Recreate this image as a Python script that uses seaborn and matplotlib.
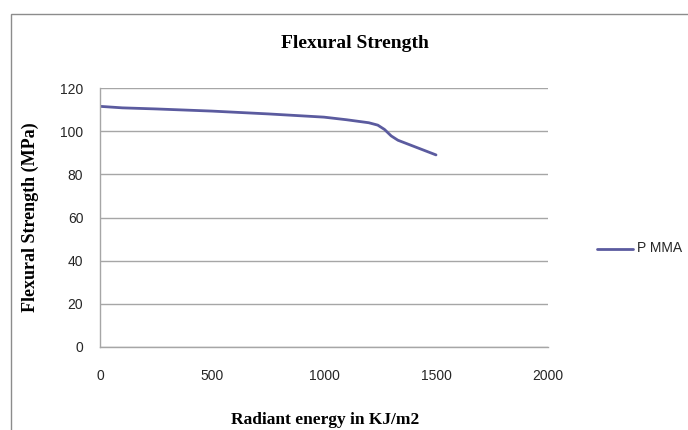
import pandas as pd
import matplotlib
matplotlib.use('Agg')
import matplotlib.pyplot as plt
import seaborn as sns
from matplotlib.patches import Rectangle
from matplotlib.lines import Line2D

# values
energy = [0, 100, 250, 500, 750, 1000, 1100, 1200, 1240, 1270, 1300, 1330, 1400, 1500]
strength = [111.5, 110.8, 110.3, 109.3, 108.0, 106.5, 105.3, 103.9, 102.8, 100.8, 97.8, 95.8, 93.0, 89.0]
series_name = 'P MMA'

df = pd.DataFrame({'energy': energy, 'strength': strength})

sns.set_theme(style='white')
plt.rcParams['font.family'] = ['Liberation Sans', 'DejaVu Sans']

line_color = '#5B5B9F'
grid_color = '#A6A6A6'
text_color = '#262626'

fig = plt.figure(figsize=(6.88, 4.30), dpi=100)
fig.patch.set_facecolor('white')

# chart area border (runs off the right and bottom edges)
fig.patches.append(Rectangle((11 / 688, -0.1), 1.2, (430 - 14) / 430 + 0.1,
                             transform=fig.transFigure, fill=False,
                             edgecolor='#8C8C8C', linewidth=1.0))

ax = fig.add_axes([100 / 688, 83 / 430, 448 / 688, 259 / 430])
sns.lineplot(data=df, x='energy', y='strength', ax=ax, color=line_color,
             linewidth=2.0, legend=False)

ax.set_xlim(0, 2000)
ax.set_ylim(0, 120)
ax.set_xticks(range(0, 2001, 500))
ax.set_yticks(range(0, 121, 20))
ax.yaxis.grid(True, color=grid_color, linewidth=1.0)
ax.xaxis.grid(False)
for side in ['top', 'right']:
    ax.spines[side].set_visible(False)
for side in ['left', 'bottom']:
    ax.spines[side].set_color(grid_color)
    ax.spines[side].set_linewidth(1.0)
ax.tick_params(axis='both', length=0, labelsize=10, colors=text_color)
ax.tick_params(axis='x', pad=16)
ax.tick_params(axis='y', pad=12)

ax.set_xlabel('')
ax.set_ylabel('')
fig.text(355 / 688, 1 - 43 / 430, 'Flexural Strength', ha='center', va='center',
         family='Liberation Serif', fontweight='bold', fontsize=14, color='black')
fig.text(325 / 688, 1 - 420 / 430, 'Radiant energy in KJ/m2', ha='center', va='center',
         family='Liberation Serif', fontweight='bold', fontsize=12.5, color='black')
fig.text(30 / 688, 1 - 217 / 430, 'Flexural Strength (MPa)', ha='center', va='center',
         rotation=90, family='Liberation Serif', fontweight='bold', fontsize=13,
         color='black')

# legend on the right
fig.lines.append(Line2D([597 / 688, 633 / 688], [1 - 249 / 430, 1 - 249 / 430],
                        transform=fig.transFigure, color=line_color, linewidth=2.0))
fig.text(637 / 688, 1 - 248 / 430, series_name, ha='left', va='center',
         fontsize=10, color=text_color)

fig.savefig('out.png', dpi=100)
